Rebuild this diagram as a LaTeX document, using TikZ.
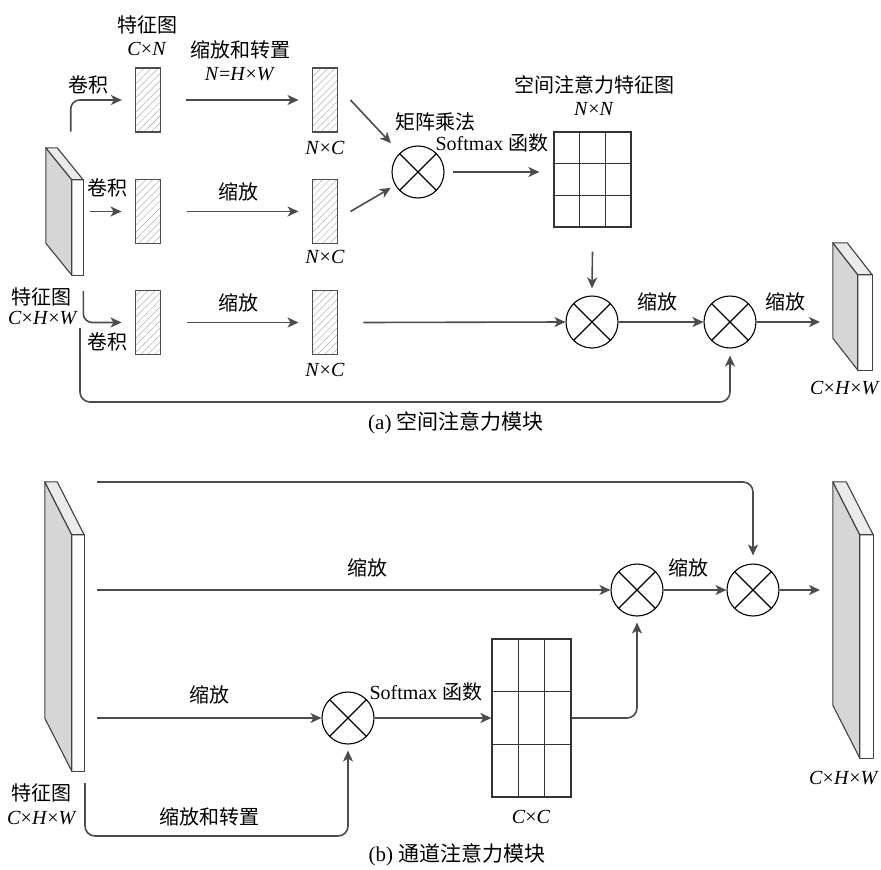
\documentclass[tikz,border=0pt]{standalone}
\usepackage{fontspec}
\setmainfont{Liberation Serif}
\newfontfamily\cjk{Noto Sans CJK SC}
\usetikzlibrary{arrows.meta,patterns.meta,calc}
\newcommand\zh[1]{{\cjk #1}}
\newcommand\slabfaces[3]{%
  \draw[slabedge, fill=black!16] (#1.north west) -- ([shift={(-#2,-#3)}]#1.north west) -- ([shift={(-#2,-#3)}]#1.south west) -- (#1.south west) -- cycle;
  \draw[slabedge, fill=black!8] (#1.north west) -- ([shift={(-#2,-#3)}]#1.north west) -- ([shift={(-#2,-#3)}]#1.north east) -- (#1.north east) -- cycle;
  \draw[slabedge] (#1.north west) rectangle (#1.south east);
}
\newcommand\gridlines[1]{%
  \draw[gridln] ($(#1.north west)!1/3!(#1.north east)$) -- ($(#1.south west)!1/3!(#1.south east)$);
  \draw[gridln] ($(#1.north west)!2/3!(#1.north east)$) -- ($(#1.south west)!2/3!(#1.south east)$);
  \draw[gridln] ($(#1.north west)!1/3!(#1.south west)$) -- ($(#1.north east)!1/3!(#1.south east)$);
  \draw[gridln] ($(#1.north west)!2/3!(#1.south west)$) -- ($(#1.north east)!2/3!(#1.south east)$);
}
\tikzset{
  ln/.style={draw=black!70, line width=1.6pt},
  arr/.style={ln, -{Stealth[length=11pt,width=10pt,inset=3pt]}},
  hatchbox/.style={draw=black!70, line width=1.2pt, minimum width=25.7pt, minimum height=64pt, inner sep=0pt,
     pattern={Lines[angle=45,distance=5pt,line width=0.5pt]}, pattern color=black!30},
  mult/.style={circle, draw=black, line width=1.1pt, minimum size=52pt, inner sep=0pt,
     path picture={\draw[line width=1.1pt] (path picture bounding box.south west) -- (path picture bounding box.north east)
        (path picture bounding box.north west) -- (path picture bounding box.south east);}},
  gridbox/.style={draw=black!80, line width=1.2pt, inner sep=0pt},
  gridln/.style={draw=black!80, line width=1.2pt},
  front/.style={inner sep=0pt, fill=white},
  slabedge/.style={draw=black!75, line width=1.1pt, line join=round},
  lbl/.style={font=\fontsize{20}{23}\selectfont, inner sep=0pt},
  captxt/.style={font=\fontsize{21}{24}\selectfont, inner sep=0pt},
}
\begin{document}
\begin{tikzpicture}[x=1pt,y=-1pt]
\useasboundingbox (0,0) rectangle (881,870);
% ===== (a) =====
\node[front, minimum width=11pt, minimum height=95pt] (sa) at (77.5,227.5) {};
\slabfaces{sa}{26}{32}
\node[front, minimum width=14pt, minimum height=95pt] (sd) at (865,322.5) {};
\slabfaces{sd}{25}{32}

\node[hatchbox] (h11) at (148,100) {};
\node[hatchbox] (h12) at (148,211.5) {};
\node[hatchbox] (h13) at (148,322.5) {};
\node[hatchbox] (h21) at (325,100) {};
\node[hatchbox] (h22) at (325,211.5) {};
\node[hatchbox] (h23) at (325,322.5) {};

\node[mult] (m1) at (418,172) {};
\node[mult] (m2) at (592,322) {};
\node[mult] (m3) at (730,322) {};

\node[gridbox, minimum width=77pt, minimum height=95pt] (g1) at (592.5,179.5) {};
\gridlines{g1}

\coordinate (c1) at (70.7,131.7);
\coordinate (c3) at (83.3,291);
\coordinate (c4) at (80,328);
\coordinate (c5) at (80,402);
\coordinate (o1) at (820,322);
\path (g1.west |- m1.east) ++(-14pt,0) coordinate (g1in);

\draw[arr, rounded corners=9pt] (c1) |- ([xshift=-13pt]h11.west);
\draw[arr] ([xshift=-45pt]h12.west) -- ([xshift=-13pt]h12.west);
\draw[arr, rounded corners=9pt] (c3) |- ([xshift=-13pt]h13.west);

\draw[arr] ([xshift=25.3pt]h11.east) -- ([xshift=-13pt]h21.west);
\draw[arr] ([xshift=25.3pt]h12.east) -- ([xshift=-13pt]h22.west);
\draw[arr] ([xshift=25.3pt]h13.east) -- ([xshift=-13pt]h23.west);

\draw[arr, shorten >=13pt] ([xshift=12pt]h21.east) -- (m1);
\draw[arr, shorten >=5pt] ([xshift=12pt]h22.east) -- (m1);
\draw[arr] ([xshift=8pt]m1.east) -- (g1in);
\draw[arr] ([yshift=-24pt]g1.south) -- ([yshift=7pt]m2.north);
\draw[arr] ([xshift=25pt]h23.east) -- (m2.west);
\draw[arr] (m2) -- (m3);
\draw[arr] (m3.east) -- (o1);
\draw[arr, rounded corners=10pt] (c4) -- (c5) -| ([yshift=-7pt]m3.south);

% labels (a)
\node[lbl] (la1) at (147,25) {\zh{特征图}};
\node[lbl] (la2) at (147,49) {\textit{C}×\textit{N}};
\node[lbl] (la3) at (240,50) {\zh{缩放和转置}};
\node[lbl] (la4) at (240,74) {\textit{N}=\textit{H}×\textit{W}};
\node[lbl] (la5) at (88,85) {\zh{卷积}};
\node[lbl] (la6) at (107,188) {\zh{卷积}};
\node[lbl] (la7) at (107,342) {\zh{卷积}};
\node[lbl] (la8) at (238,192) {\zh{缩放}};
\node[lbl] (la9) at (238,303) {\zh{缩放}};
\node[lbl] (la10) at (325,148) {\textit{N}×\textit{C}};
\node[lbl] (la11) at (325,257) {\textit{N}×\textit{C}};
\node[lbl] (la12) at (325,370) {\textit{N}×\textit{C}};
\node[lbl] (la13) at (435,122) {\zh{矩阵乘法}};
\node[lbl] (la14) at (492,143) {Softmax \zh{函数}};
\node[lbl] (la15) at (594,85) {\zh{空间注意力特征图}};
\node[lbl] (la16) at (594,109) {\textit{N}×\textit{N}};
\node[lbl] (la17) at (657,302) {\zh{缩放}};
\node[lbl] (la18) at (785,302) {\zh{缩放}};
\node[lbl] (la19) at (42,297) {\zh{特征图}};
\node[lbl] (la20) at (43,318) {\textit{C}×\textit{H}×\textit{W}};
\node[lbl] (la21) at (845,388) {\textit{C}×\textit{H}×\textit{W}};
\node[captxt] (capa) at (456,423) {(a) \zh{空间注意力模块}};

% ===== (b) =====
\node[front, minimum width=12pt, minimum height=236pt] (sb) at (78,653) {};
\slabfaces{sb}{27}{53}
\node[front, minimum width=13pt, minimum height=223pt] (sc) at (866.5,646.5) {};
\slabfaces{sc}{27}{53}

\node[mult] (mA) at (637,590) {};
\node[mult] (mB) at (753,590) {};
\node[mult] (mC) at (348,718) {};

\node[gridbox, minimum width=79pt, minimum height=158pt] (g2) at (531.5,718) {};
\gridlines{g2}

\coordinate (t0) at (97,482);
\coordinate (t1) at (97,590);
\coordinate (t2) at (97,718);
\coordinate (t3) at (85,783);
\coordinate (t4) at (85,836);
\coordinate (o2) at (820,590);

\draw[arr, rounded corners=10pt] (t0) -| ([yshift=8pt]mB.north);
\draw[arr] (t1) -- (mA.west);
\draw[arr] (mA) -- (mB);
\draw[arr] (mB.east) -- (o2);
\draw[arr] (t2) -- (mC.west);
\draw[arr] (mC.east) -- (g2.west);
\draw[arr, rounded corners=10pt] (g2.east) -| ([yshift=-6pt]mA.south);
\draw[arr, rounded corners=10pt] (t3) -- (t4) -| ([yshift=-6pt]mC.south);

% labels (b)
\node[lbl] (lb1) at (367,568) {\zh{缩放}};
\node[lbl] (lb2) at (688,568) {\zh{缩放}};
\node[lbl] (lb3) at (209,695) {\zh{缩放}};
\node[lbl] (lb4) at (426,692) {Softmax \zh{函数}};
\node[lbl] (lb5) at (531,817) {\textit{C}×\textit{C}};
\node[lbl] (lb6) at (42,793) {\zh{特征图}};
\node[lbl] (lb7) at (42,818) {\textit{C}×\textit{H}×\textit{W}};
\node[lbl] (lb8) at (209,817) {\zh{缩放和转置}};
\node[lbl] (lb9) at (844,778) {\textit{C}×\textit{H}×\textit{W}};
\node[captxt] (capb) at (457,855) {(b) \zh{通道注意力模块}};
\end{tikzpicture}
\end{document}
